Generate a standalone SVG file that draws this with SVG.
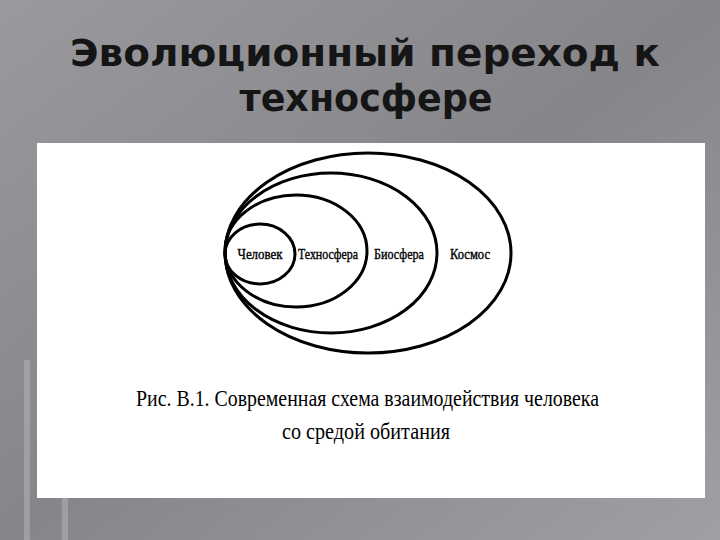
<svg xmlns="http://www.w3.org/2000/svg" width="720" height="540" viewBox="0 0 720 540">
<defs>
<linearGradient id="bg" x1="0" y1="0" x2="1" y2="1">
<stop offset="0" stop-color="#9a9a9e"/><stop offset="0.5" stop-color="#85858a"/><stop offset="1" stop-color="#a0a0a4"/>
</linearGradient>
<style>
.e{fill:none;stroke:#000;stroke-width:3}
.l{font-family:"Liberation Serif",serif;font-size:15px;fill:#000;stroke:#000;stroke-width:0.4;text-anchor:middle}
.c{font-family:"Liberation Serif",serif;font-size:23px;fill:#000}
.t{font-family:"DejaVu Sans",sans-serif;font-weight:bold;font-size:38px;fill:#151515;text-anchor:middle}
</style>
</defs>
<rect width="720" height="540" fill="url(#bg)"/>
<rect x="24" y="360" width="6" height="180" fill="#b0b0b4" opacity="0.6"/>
<rect x="62" y="498" width="6" height="42" fill="#b0b0b4" opacity="0.6"/>
<text class="t" x="365" y="66" textLength="590" lengthAdjust="spacingAndGlyphs">Эволюционный переход к</text>
<text class="t" x="366" y="111" textLength="253" lengthAdjust="spacingAndGlyphs">техносфере</text>
<rect x="37" y="143" width="668" height="355" fill="#fff"/>
<g id="kosmos"><ellipse class="e" cx="368" cy="253" rx="143" ry="100"/><text class="l" x="470" y="259" textLength="40" lengthAdjust="spacingAndGlyphs">Космос</text></g>
<g id="biosfera"><ellipse class="e" cx="331" cy="253" rx="106" ry="80"/><text class="l" x="399" y="259" textLength="50" lengthAdjust="spacingAndGlyphs">Биосфера</text></g>
<g id="tehnosfera"><ellipse class="e" cx="296" cy="251" rx="71" ry="56"/><text class="l" x="328" y="259" textLength="60" lengthAdjust="spacingAndGlyphs">Техносфера</text></g>
<g id="chelovek"><ellipse class="e" cx="260" cy="254" rx="35" ry="30"/><text class="l" x="260" y="259" textLength="45" lengthAdjust="spacingAndGlyphs">Человек</text></g>
<g id="connectors"/>
<text class="c" x="136" y="406" textLength="463" lengthAdjust="spacingAndGlyphs">Рис. В.1. Современная схема взаимодействия человека</text>
<text class="c" x="282" y="439" textLength="168" lengthAdjust="spacingAndGlyphs">со средой обитания</text>
</svg>
